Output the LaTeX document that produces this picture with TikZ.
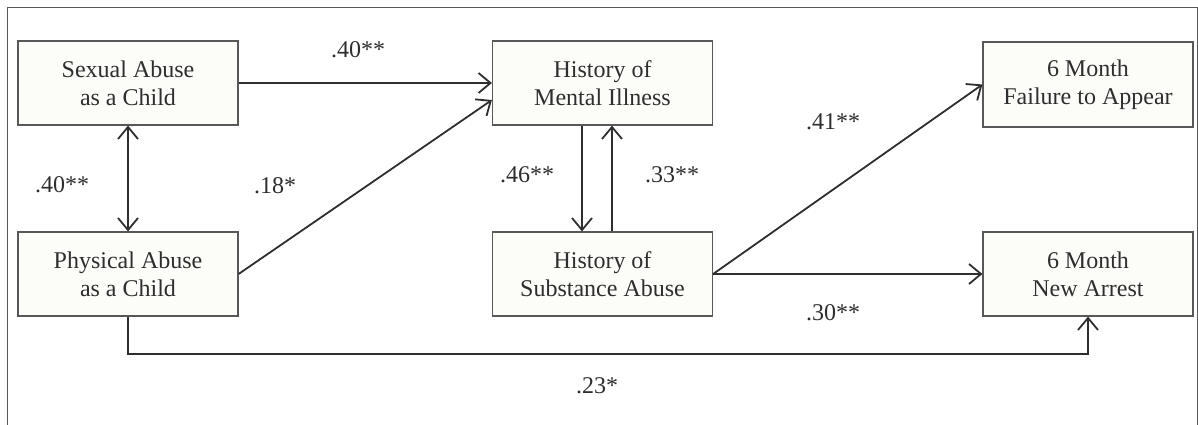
\documentclass[tikz,border=0pt]{standalone}
\usepackage{fontspec}
\setmainfont{Liberation Serif}
\usetikzlibrary{arrows.meta,positioning}
\definecolor{inkgray}{HTML}{2E2E2E}
\definecolor{boxfill}{HTML}{FCFCF8}
\tikzset{
  varbox/.style={draw=inkgray!80, fill=boxfill, line width=1.2pt,
    minimum width=220pt, minimum height=84pt, inner sep=0pt,
    align=center, text=inkgray, font=\fontsize{24}{28}\selectfont},
  link/.style={draw=inkgray, line width=1.8pt,
    -{Straight Barb[length=12pt,width=20pt]}},
  coef/.style={text=inkgray, font=\fontsize{24}{28}\selectfont}
}
\begin{document}
\begin{tikzpicture}[x=1pt, y=-1pt]
    \pgfmathsetmacro{\xl}{128}
    \pgfmathsetmacro{\xm}{602.5}
    \pgfmathsetmacro{\xr}{1088}
    \pgfmathsetmacro{\yt}{83}
    \pgfmathsetmacro{\yb}{274}
    \useasboundingbox (0, 0) rectangle (1198, 425);
    % frame
    \draw[inkgray!80, line width=1pt] (7, 425)--(7, 8)--(1197, 8)--(1197, 425);
    % variables
    \node[varbox] (sexabuse) at (\xl, \yt) {Sexual Abuse\\as a Child};
    \node[varbox] (physabuse) at (\xl, \yb) {Physical Abuse\\as a Child};
    \node[varbox] (mentill) at (\xm, \yt) {History of\\Mental Illness};
    \node[varbox] (subsabuse) at (\xm, \yb) {History of\\Substance Abuse};
    \node[varbox, minimum width=210pt, minimum height=85pt] (failapp)
      at (\xr, \yt+1.5) {6 Month\\Failure to Appear};
    \node[varbox, minimum width=210pt] (newarrest) at (\xr, \yb) {6 Month\\New Arrest};
    % paths
    \draw[link, {Straight Barb[length=12pt,width=20pt]}-{Straight Barb[length=12pt,width=20pt]}]
      (sexabuse)--(physabuse);
    \draw[link] (sexabuse)--(mentill);
    \draw[link] (physabuse.east)--([yshift=-17pt]mentill.west);
    \draw[link] ([xshift=-20.5pt]mentill.south)--([xshift=-20.5pt]subsabuse.north);
    \draw[link] ([xshift=9.5pt]subsabuse.north)--([xshift=9.5pt]mentill.south);
    \draw[link] (subsabuse.east)--(failapp.west);
    \draw[link] (subsabuse.east)--(newarrest.west);
    \draw[link] (physabuse.south)--++(0, 37) -| (newarrest.south);
    % coefficients
    \node[coef] (c1) at (358, 50) {.40**};
    \node[coef] (c2) at (62, 185) {.40**};
    \node[coef] (c3) at (275, 186) {.18*};
    \node[coef] (c4) at (527, 175) {.46**};
    \node[coef] (c5) at (672, 175) {.33**};
    \node[coef] (c6) at (833, 122) {.41**};
    \node[coef] (c7) at (833, 313) {.30**};
    \node[coef] (c8) at (597, 386) {.23*};
  \end{tikzpicture}
\end{document}
